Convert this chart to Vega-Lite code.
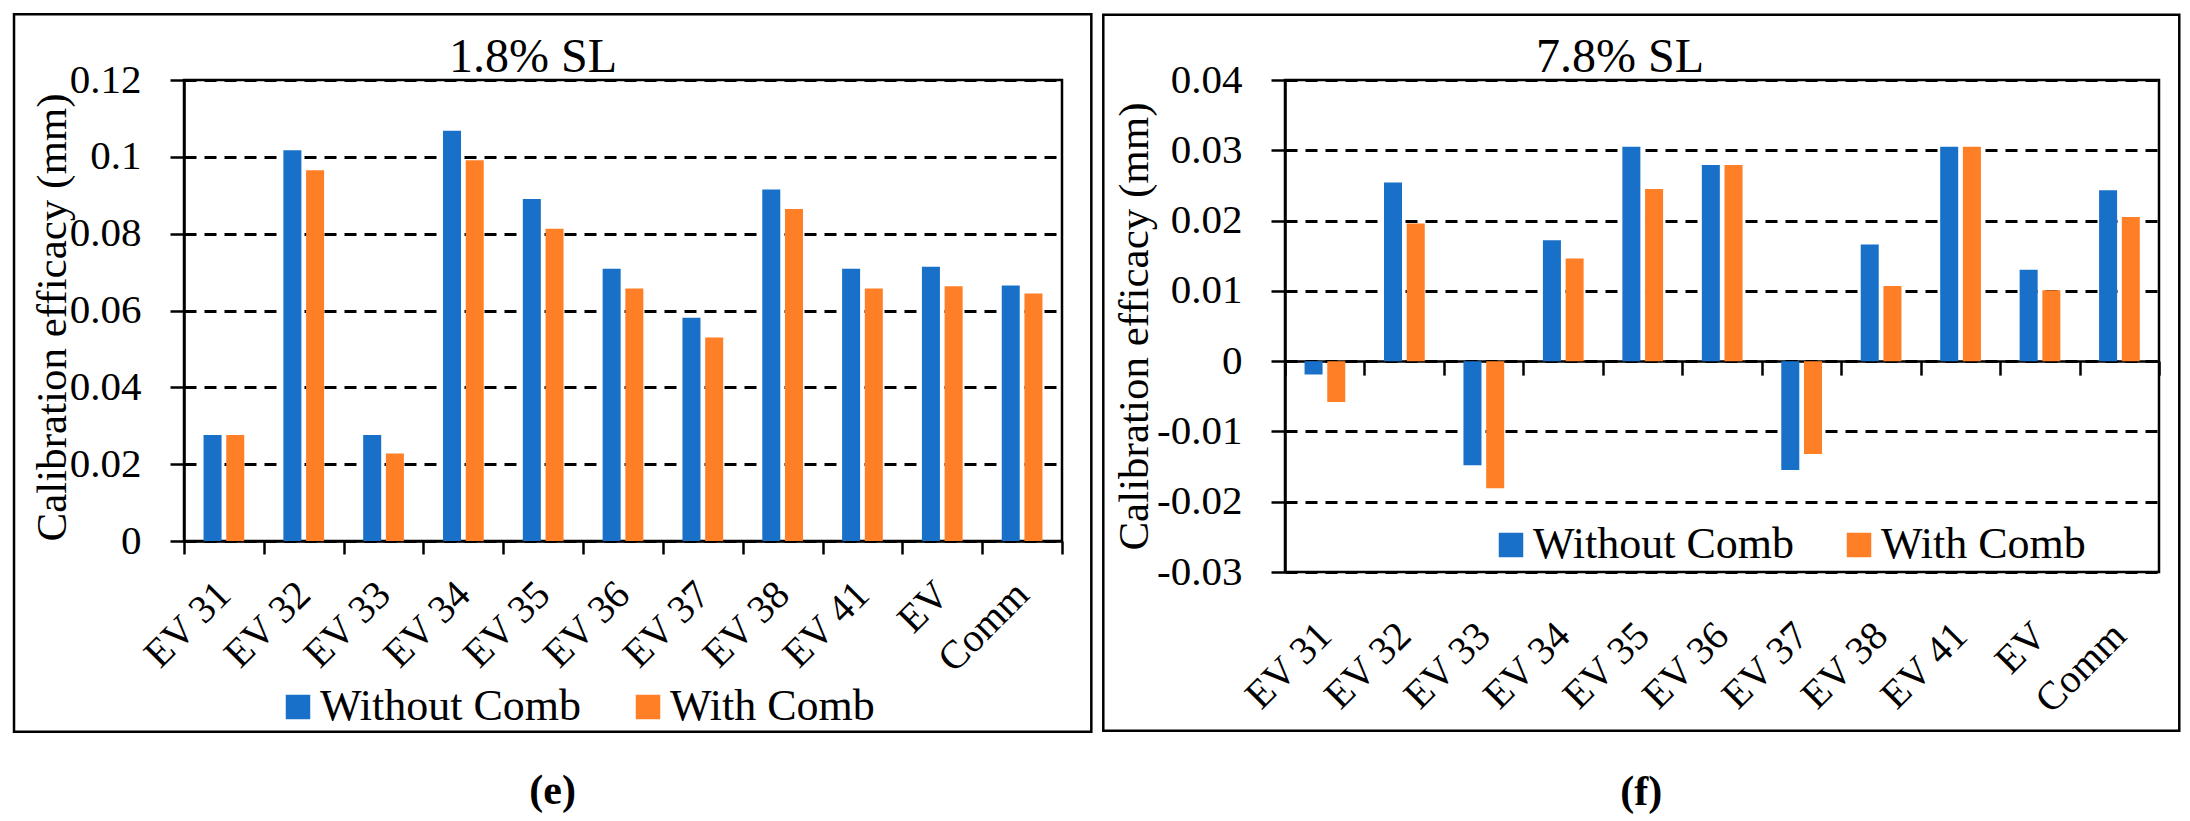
{
  "$schema": "https://vega.github.io/schema/vega-lite/v6.json",
  "padding": {"left": 11, "top": 11, "right": 5, "bottom": 5},
  "background": "white",
  "config": {
    "font": "Liberation Serif",
    "view": {"stroke": "black", "strokeWidth": 2.5},
    "axis": {
      "labelFont": "Liberation Serif", "titleFont": "Liberation Serif",
      "labelColor": "black", "titleColor": "black",
      "domainColor": "black", "tickColor": "black",
      "domainWidth": 2.5, "tickWidth": 2.5, "titleFontWeight": "normal"
    },
    "legend": {"labelFont": "Liberation Serif", "labelColor": "black"}
  },
  "datasets": {
    "sl18": [
      {"cat": "EV 31", "series": "Without Comb", "value": 0.0276},
      {"cat": "EV 31", "series": "With Comb", "value": 0.0276},
      {"cat": "EV 32", "series": "Without Comb", "value": 0.1017},
      {"cat": "EV 32", "series": "With Comb", "value": 0.0965},
      {"cat": "EV 33", "series": "Without Comb", "value": 0.0276},
      {"cat": "EV 33", "series": "With Comb", "value": 0.0228},
      {"cat": "EV 34", "series": "Without Comb", "value": 0.1068},
      {"cat": "EV 34", "series": "With Comb", "value": 0.0991},
      {"cat": "EV 35", "series": "Without Comb", "value": 0.0890},
      {"cat": "EV 35", "series": "With Comb", "value": 0.0813},
      {"cat": "EV 36", "series": "Without Comb", "value": 0.0709},
      {"cat": "EV 36", "series": "With Comb", "value": 0.0657},
      {"cat": "EV 37", "series": "Without Comb", "value": 0.0581},
      {"cat": "EV 37", "series": "With Comb", "value": 0.0530},
      {"cat": "EV 38", "series": "Without Comb", "value": 0.0915},
      {"cat": "EV 38", "series": "With Comb", "value": 0.0864},
      {"cat": "EV 41", "series": "Without Comb", "value": 0.0709},
      {"cat": "EV 41", "series": "With Comb", "value": 0.0657},
      {"cat": "EV", "series": "Without Comb", "value": 0.0714},
      {"cat": "EV", "series": "With Comb", "value": 0.0663},
      {"cat": "Comm", "series": "Without Comb", "value": 0.0665},
      {"cat": "Comm", "series": "With Comb", "value": 0.0644}
    ],
    "sl78": [
      {"cat": "EV 31", "series": "Without Comb", "value": -0.0019},
      {"cat": "EV 31", "series": "With Comb", "value": -0.0058},
      {"cat": "EV 32", "series": "Without Comb", "value": 0.0254},
      {"cat": "EV 32", "series": "With Comb", "value": 0.0196},
      {"cat": "EV 33", "series": "Without Comb", "value": -0.0148},
      {"cat": "EV 33", "series": "With Comb", "value": -0.0181},
      {"cat": "EV 34", "series": "Without Comb", "value": 0.0172},
      {"cat": "EV 34", "series": "With Comb", "value": 0.0146},
      {"cat": "EV 35", "series": "Without Comb", "value": 0.0305},
      {"cat": "EV 35", "series": "With Comb", "value": 0.0245},
      {"cat": "EV 36", "series": "Without Comb", "value": 0.0279},
      {"cat": "EV 36", "series": "With Comb", "value": 0.0279},
      {"cat": "EV 37", "series": "Without Comb", "value": -0.0155},
      {"cat": "EV 37", "series": "With Comb", "value": -0.0132},
      {"cat": "EV 38", "series": "Without Comb", "value": 0.0166},
      {"cat": "EV 38", "series": "With Comb", "value": 0.0107},
      {"cat": "EV 41", "series": "Without Comb", "value": 0.0305},
      {"cat": "EV 41", "series": "With Comb", "value": 0.0305},
      {"cat": "EV", "series": "Without Comb", "value": 0.0130},
      {"cat": "EV", "series": "With Comb", "value": 0.0101},
      {"cat": "Comm", "series": "Without Comb", "value": 0.0243},
      {"cat": "Comm", "series": "With Comb", "value": 0.0205}
    ]
  },
  "spacing": 6,
  "resolve": {"scale": {"color": "independent"}, "legend": {"color": "independent"}},
  "hconcat": [
    {
      "title": {"text": "(e)", "orient": "bottom", "anchor": "middle", "fontSize": 42, "fontWeight": "bold", "font": "Liberation Serif", "baseline": "alphabetic", "offset": 70, "color": "black"},
      "resolve": {"scale": {"color": "independent"}, "legend": {"color": "independent"}},
      "vconcat": [
        {
          "width": 878,
          "height": 461,
          "title": {"text": "1.8% SL", "frame": "group", "anchor": "middle", "dx": -90, "fontSize": 48, "fontWeight": "normal", "baseline": "alphabetic", "offset": -107, "font": "Liberation Serif", "color": "black"},
          "resolve": {"scale": {"x": "independent"}, "axis": {"x": "independent"}},
          "layer": [
            {
              "data": {"name": "sl18"},
              "mark": {"type": "bar"},
              "encoding": {
                "x": {
                  "field": "cat", "type": "nominal",
                  "sort": ["EV 31", "EV 32", "EV 33", "EV 34", "EV 35", "EV 36", "EV 37", "EV 38", "EV 41", "EV", "Comm"],
                  "scale": {"paddingInner": 0, "paddingOuter": 0},
                  "axis": {"title": null, "labelAngle": -45, "labelAlign": "right", "labelBaseline": "middle", "labelFontSize": 40, "labelPadding": 34, "tickSize": 13, "tickBand": "extent", "grid": false, "labelLimit": 0}
                },
                "xOffset": {"field": "series", "sort": ["Without Comb", "With Comb"], "scale": {"paddingInner": 0.207, "paddingOuter": 0.861}},
                "y": {
                  "field": "value", "type": "quantitative",
                  "scale": {"domain": [0, 0.12], "nice": false},
                  "axis": {
                    "title": "Calibration efficacy (mm)", "titleFontSize": 43, "titlePadding": -5, "titleAnchor": "start",
                    "values": [0, 0.02, 0.04, 0.06, 0.08, 0.1, 0.12],
                    "labelExpr": "datum.value < 0 ? '-' + format(-datum.value, '.2~f') : format(datum.value, '.2~f')",
                    "labelFontSize": 41, "labelPadding": 29, "tickSize": 14,
                    "grid": true, "gridColor": "black", "gridDash": [12, 8], "gridWidth": 3
                  }
                },
                "color": {
                  "field": "series", "type": "nominal",
                  "scale": {"domain": ["Without Comb", "With Comb"], "range": ["#1870c8", "#ff7f27"]},
                  "legend": {"title": null, "orient": "none", "legendX": 92, "legendY": 605, "direction": "horizontal", "symbolType": "square", "symbolSize": 600, "symbolStrokeWidth": 0, "symbolOpacity": 1, "labelFontSize": 44, "labelOffset": 0, "columnPadding": 44, "labelLimit": 0, "padding": 0}
                }
              }
            },
            {
              "data": {"values": [{}]},
              "mark": {"type": "rect", "fill": "transparent", "stroke": "black", "strokeWidth": 2.5},
              "encoding": {
                "x": {"datum": -0.1936, "type": "quantitative", "scale": {"domain": [0, 1], "nice": false}, "axis": null},
                "x2": {"datum": 1.0334},
                "y": {"datum": 0.1371, "type": "quantitative"},
                "y2": {"datum": -0.04964}
              }
            }
          ]
        }
      ]
    },
    {
      "title": {"text": "(f)", "orient": "bottom", "anchor": "middle", "fontSize": 42, "fontWeight": "bold", "font": "Liberation Serif", "baseline": "alphabetic", "offset": 72, "color": "black"},
      "resolve": {"scale": {"color": "independent"}, "legend": {"color": "independent"}},
      "vconcat": [
        {
          "width": 874,
          "height": 492,
          "title": {"text": "7.8% SL", "frame": "group", "anchor": "middle", "dx": -102, "fontSize": 48, "fontWeight": "normal", "baseline": "alphabetic", "offset": -107, "font": "Liberation Serif", "color": "black"},
          "resolve": {"scale": {"x": "independent"}, "axis": {"x": "independent"}},
          "layer": [
            {
              "data": {"name": "sl78"},
              "mark": {"type": "bar"},
              "encoding": {
                "x": {
                  "field": "cat", "type": "nominal",
                  "sort": ["EV 31", "EV 32", "EV 33", "EV 34", "EV 35", "EV 36", "EV 37", "EV 38", "EV 41", "EV", "Comm"],
                  "scale": {"paddingInner": 0, "paddingOuter": 0},
                  "axis": {"title": null, "offset": -210.9, "labelAngle": -45, "labelAlign": "right", "labelBaseline": "middle", "labelFontSize": 40, "labelPadding": 254, "tickSize": 14, "tickBand": "extent", "grid": false, "labelLimit": 0}
                },
                "xOffset": {"field": "series", "sort": ["Without Comb", "With Comb"], "scale": {"paddingInner": 0.207, "paddingOuter": 0.861}},
                "y": {
                  "field": "value", "type": "quantitative",
                  "scale": {"domain": [-0.03, 0.04], "nice": false, "zero": false},
                  "axis": {
                    "title": "Calibration efficacy (mm)", "titleFontSize": 43, "titlePadding": 0,
                    "values": [-0.03, -0.02, -0.01, 0, 0.01, 0.02, 0.03, 0.04],
                    "labelExpr": "datum.value < 0 ? '-' + format(-datum.value, '.2~f') : format(datum.value, '.2~f')",
                    "labelFontSize": 41, "labelPadding": 29, "tickSize": 14,
                    "grid": true, "gridColor": "black", "gridDash": [12, 8], "gridWidth": 3
                  }
                },
                "color": {
                  "field": "series", "type": "nominal",
                  "scale": {"domain": ["Without Comb", "With Comb"], "range": ["#1870c8", "#ff7f27"]},
                  "legend": {"title": null, "orient": "none", "legendX": 204, "legendY": 443, "direction": "horizontal", "symbolType": "square", "symbolSize": 600, "symbolStrokeWidth": 0, "symbolOpacity": 1, "labelFontSize": 44, "labelOffset": 0, "columnPadding": 42, "labelLimit": 0, "padding": 0}
                }
              }
            },
            {
              "data": {"values": [{}]},
              "mark": {"type": "rect", "fill": "transparent", "stroke": "black", "strokeWidth": 2.5},
              "encoding": {
                "x": {"datum": -0.2079, "type": "quantitative", "scale": {"domain": [0, 1], "nice": false}, "axis": null},
                "x2": {"datum": 1.0232},
                "y": {"datum": 0.04929, "type": "quantitative"},
                "y2": {"datum": -0.05258}
              }
            }
          ]
        }
      ]
    }
  ]
}
